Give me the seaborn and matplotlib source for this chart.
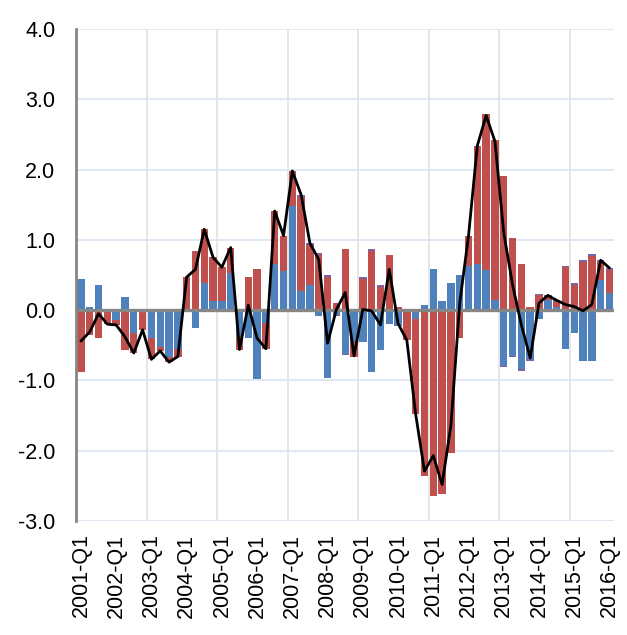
import numpy as np
import matplotlib
matplotlib.use("Agg")
import matplotlib.pyplot as plt
import seaborn as sns

# ---- data ----
quarters = [f"{y}-Q{q}" for y in range(2001, 2017) for q in range(1, 5)][:61]

blue = [0.44, 0.05, 0.36, 0.00, -0.14, 0.19, -0.33, 0.00,
        -0.40, -0.52, -0.66, -0.55, 0.00, -0.26, 0.39, 0.13,
        0.13, 0.53, -0.38, -0.40, -0.98, -0.18, 0.66, 0.55,
        1.48, 0.27, 0.36, -0.09, -0.97, -0.07, -0.62, -0.46,
        -0.46, -0.88, -0.57, -0.20, -0.23, 0.00, -0.12, 0.07,
        0.58, 0.13, 0.39, 0.50, 0.63, 0.66, 0.57, 0.15,
        -0.79, -0.65, -0.84, -0.70, -0.13, 0.14, 0.04, -0.55,
        -0.33, -0.72, -0.72, 0.43, 0.24]

red = [-0.88, -0.36, -0.40, -0.20, -0.07, -0.57, -0.28, -0.28,
       -0.30, -0.06, -0.08, -0.11, 0.47, 0.84, 0.76, 0.62,
       0.48, 0.36, -0.18, 0.47, 0.58, -0.37, 0.75, 0.51,
       0.50, 1.34, 0.56, 0.78, 0.47, 0.10, 0.87, -0.20,
       0.45, 0.84, 0.33, 0.78, 0.04, -0.43, -1.36, -2.36,
       -2.65, -2.61, -2.03, -0.40, 0.43, 1.68, 2.22, 2.27,
       1.91, 1.03, 0.66, 0.04, 0.21, 0.05, 0.08, 0.61,
       0.36, 0.69, 0.77, 0.26, 0.33]

other = [0, 0, 0, 0, 0, 0, 0, 0,
         0, 0, 0, 0, 0, 0, 0, 0,
         0, 0, 0, 0, 0, 0, 0, 0,
         0, 0.03, 0.03, 0.03, 0.03, -0.02, -0.02, 0,
         0.02, 0.03, 0.03, 0, 0, 0, 0, 0,
         0, 0, 0, 0, 0, 0, -0.02, -0.02,
         -0.02, -0.02, -0.03, -0.02, 0.02, 0.02, 0.02, 0.02,
         0.02, 0.02, 0.03, 0.02, 0.03]

total = [-0.44, -0.31, -0.05, -0.20, -0.21, -0.38, -0.61, -0.28,
         -0.70, -0.58, -0.74, -0.66, 0.47, 0.58, 1.15, 0.75,
         0.61, 0.89, -0.56, 0.07, -0.40, -0.55, 1.41, 1.06,
         1.98, 1.64, 0.95, 0.72, -0.47, 0.01, 0.25, -0.65,
         0.01, -0.01, -0.21, 0.58, -0.19, -0.43, -1.48, -2.29,
         -2.07, -2.48, -1.64, 0.10, 1.06, 2.34, 2.77, 2.40,
         1.10, 0.36, -0.21, -0.68, 0.10, 0.21, 0.14, 0.08,
         0.05, -0.01, 0.08, 0.71, 0.60]

yticks = [-3.0, -2.0, -1.0, 0.0, 1.0, 2.0, 3.0, 4.0]

C_BLUE = "#4F81BD"
C_RED = "#C0504D"
C_PURPLE = "#8064A2"
GRAY = "#868686"

sns.set_theme(style="white")
plt.rcParams["font.family"] = ["Liberation Sans", "DejaVu Sans"]

fig = plt.figure(figsize=(6.27, 6.35), dpi=100)
ax = fig.add_axes([76 / 627, 1 - 521 / 635, (614.4 - 76) / 627, (521 - 29) / 635])

b = np.array(blue)
r = np.array(red)
p = np.array(other)
pos1 = np.clip(b, 0, None)
pos2 = pos1 + np.clip(r, 0, None)
pos3 = pos2 + np.clip(p, 0, None)
neg1 = np.clip(b, None, 0)
neg2 = neg1 + np.clip(r, None, 0)
neg3 = neg2 + np.clip(p, None, 0)

for h, c in [(pos3, C_PURPLE), (pos2, C_RED), (pos1, C_BLUE),
             (neg3, C_PURPLE), (neg2, C_RED), (neg1, C_BLUE)]:
    sns.barplot(x=quarters, y=h, order=quarters, color=c, saturation=1,
                width=0.84, errorbar=None, ax=ax, zorder=2, linewidth=0)

ax.axhline(0, color=GRAY, lw=2.4, zorder=3)
sns.lineplot(x=np.arange(len(total)), y=total, color="black", linewidth=2.0,
             ax=ax, zorder=4)

ax.set_xlim(-0.56, 60.56)
ax.set_ylim(-3, 4)
ax.set_yticks(yticks)
ax.set_yticklabels([f"{v:.1f}" for v in yticks], fontsize=15.5)
ax.set_xticks(range(0, 61, 4))
ax.set_xticklabels(quarters[::4], rotation=90, fontsize=15.5)
ax.set_xticks(np.arange(7.5, 60, 8), minor=True)

ax.set_axisbelow(True)
ax.yaxis.grid(True, color="#dce6f2", lw=1.3)
ax.xaxis.grid(True, which="minor", color="#e4e4e4", lw=1.3)
ax.xaxis.grid(False, which="major")

ax.tick_params(axis="x", which="both", length=0, pad=9, colors="black")
ax.tick_params(axis="y", length=8, width=1.5, color=GRAY, direction="out", pad=7,
               colors="black")
ax.tick_params(axis="y", color=GRAY)

for s in ["top", "right", "bottom"]:
    ax.spines[s].set_visible(False)
ax.spines["left"].set_color(GRAY)
ax.spines["left"].set_linewidth(2)
ax.set_xlabel("")
ax.set_ylabel("")

fig.savefig("out.png", dpi=100)
